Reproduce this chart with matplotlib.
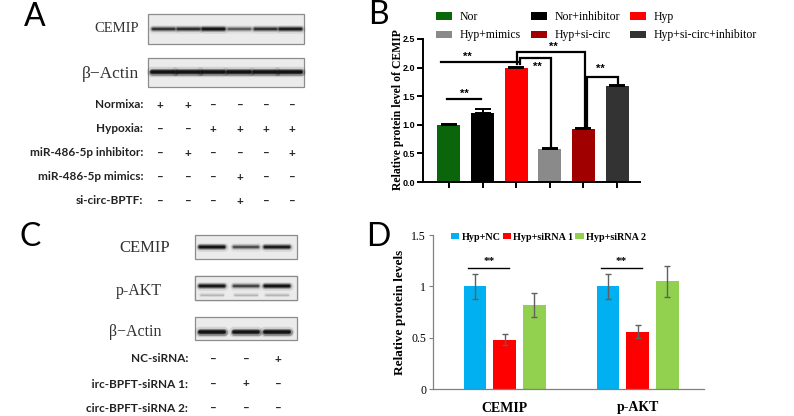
import numpy as np
import matplotlib.pyplot as plt
from matplotlib.patches import Rectangle

W, H = 794, 416

# ---- panel B data
b_groups = ['Nor', 'Nor+inhibitor', 'Hyp', 'Hyp+mimics', 'Hyp+si-circ', 'Hyp+si-circ+inhibitor']
b_values = [1.00, 1.21, 1.99, 0.58, 0.93, 1.67]
b_errors = [0.02, 0.06, 0.02, 0.02, 0.02, 0.02]
b_colors = ['#0b650b', '#000000', '#ff0000', '#8a8a8a', '#a00000', '#333333']
# (x left, x right, top, left foot, right foot, star x, star y)
b_sig = [
    (-0.05, 0.95, 1.45, 1.45, 1.45, 0.45, 1.54),
    (-0.24, 2.04, 2.10, 2.10, 2.10, 0.56, 2.19),
    (2.10, 3.02, 2.17, 2.06, 0.62, 2.63, 2.01),
    (2.02, 4.05, 2.28, 2.06, 0.95, 3.10, 2.36),
    (4.11, 5.03, 1.84, 0.95, 1.70, 4.50, 1.97),
]

# ---- panel D data
d_targets = ['CEMIP', 'p-AKT']
d_groups = ['Hyp+NC', 'Hyp+siRNA 1', 'Hyp+siRNA 2']
d_values = np.array([[1.00, 0.48, 0.82], [1.00, 0.56, 1.05]])
d_errors = np.array([[0.12, 0.055, 0.115], [0.12, 0.06, 0.15]])
d_colors = ['#00b0f0', '#ff0000', '#92d050']

# ---- panel A blot / table
a_cemip = [0.60, 0.65, 0.90, 0.40, 0.62, 0.80]
a_actin = [0.95, 0.95, 0.95, 0.95, 0.95, 0.95]
a_rows = ['Normixa:', 'Hypoxia:', 'miR-486-5p inhibitor:', 'miR-486-5p mimics:', 'si-circ-BPTF:']
a_signs = ['++----', '--++++', '-+---+', '---+--', '---+--']

# ---- panel C blot / table
c_cemip = [0.90, 0.45, 0.80]
c_pakt = [0.85, 0.50, 0.90]
c_actin = [0.95, 0.90, 0.95]
c_rows = ['NC-siRNA:', 'circ-BPFT-siRNA 1:', 'circ-BPFT-siRNA 2:']
c_signs = ['--+', '-+-', '---']

serif = 'Liberation Serif'
sans = 'Liberation Sans'
lab = 'Lato'

fig = plt.figure(figsize=(W / 100, H / 100), dpi=100)
ov = fig.add_axes([0, 0, 1, 1])
ov.set_xlim(0, W)
ov.set_ylim(H, 0)
ov.axis('off')


def px_axes(l, t, r, b):
    return fig.add_axes([l / W, 1 - b / H, (r - l) / W, (b - t) / H])


def blot(x0, x1, y0, y1, lanes, yb, strengths, bw, bh):
    ov.add_patch(Rectangle((x0, y0), x1 - x0, y1 - y0, facecolor='#ebebeb',
                           edgecolor='#8c8c8c', lw=0.9))
    for xc, s in zip(lanes, strengths):
        for f, a in [(1.9, 0.12), (1.3, 0.35), (0.8, 0.7), (0.45, 1.0)]:
            ov.plot([xc - bw / 2, xc + bw / 2], [yb, yb], color='#111111',
                    lw=bh * f * 0.72, alpha=a * s, solid_capstyle='round')


def sign_table(rows, signs, xr, ys, cols, fs):
    for r, sg, y in zip(rows, signs, ys):
        ov.text(xr, y, r, ha='right', va='center', fontsize=fs, family=lab,
                fontweight='bold', color='#222222')
        for c, x in zip(sg, cols):
            ov.text(x, y, '+' if c == '+' else '\u2013', ha='center', va='center',
                    fontsize=fs, family=lab, fontweight='bold', color='#222222')


# panel letters
for t, x, y in [('A', 35, 17), ('B', 378, 15), ('C', 30, 237), ('D', 378, 237)]:
    ov.text(x, y, t, ha='center', va='center', fontsize=23, family=lab)

# ---- panel A
lanesA = [163, 188, 213, 239, 265, 290]
blot(148, 304, 14, 44, lanesA, 28.5, a_cemip, 21, 4.5)
blot(148, 304, 58, 87, lanesA, 71.5, a_actin, 22, 5.5)
ov.text(139, 29, 'CEMIP', ha='right', va='center', fontsize=10.5, family=serif, color='#333333')
ov.text(139, 74, '\u03b2\u2212Actin', ha='right', va='center', fontsize=12.5, family=serif, color='#333333')
sign_table(a_rows, a_signs, 143, [105, 129, 153, 177, 201], [160, 188, 213, 240, 266, 292], 8.5)

# ---- panel C
lanesC = [212, 246, 277]
blot(195, 297, 235, 259, lanesC, 247, c_cemip, 24, 4.5)
blot(195, 297, 276, 300, lanesC, 286, c_pakt, 24, 4.5)
blot(195, 297, 276, 300, lanesC, 295, [0.12, 0.12, 0.12], 22, 3)
blot(195, 297, 317, 340, lanesC, 332, c_actin, 24, 5.5)
ov.text(170, 248, 'CEMIP', ha='right', va='center', fontsize=12, family=serif, color='#333333')
ov.text(162, 291, 'p-AKT', ha='right', va='center', fontsize=11.5, family=serif, color='#333333')
ov.text(162, 332, '\u03b2\u2212Actin', ha='right', va='center', fontsize=11.5, family=serif, color='#333333')
sign_table(c_rows, c_signs, 188, [359, 384, 408], [213, 246, 278], 8.5)
# the source image crops the first letter of the middle row
ov.add_patch(Rectangle((70, 376), 21, 16, facecolor='white', edgecolor='none', zorder=5))

# ---- panel B
axB = px_axes(423, 39, 640, 182)
xb = np.arange(len(b_values))
bars = axB.bar(xb, b_values, width=0.68, color=b_colors,
               yerr=[np.zeros(len(b_errors)), b_errors], capsize=6,
               error_kw=dict(ecolor='black', elinewidth=1.4, capthick=1.4))
axB.set_xlim(-0.77, 5.68)
axB.set_ylim(0, 2.5)
axB.set_yticks(np.arange(0, 2.51, 0.5))
axB.set_yticklabels([f'{v:.1f}' for v in np.arange(0, 2.51, 0.5)], family=sans,
                    fontweight='bold', fontsize=6.5)
axB.set_xticks(xb)
axB.set_xticklabels([])
axB.tick_params(width=1.4, length=4, pad=1.5)
for s in ['top', 'right']:
    axB.spines[s].set_visible(False)
for s in ['left', 'bottom']:
    axB.spines[s].set_linewidth(1.4)
for xl, xr, top, fl, fr, sx, sy in b_sig:
    axB.plot([xl, xl, xr, xr], [fl, top, top, fr], color='black', lw=1.6,
             solid_joinstyle='miter', clip_on=False)
    axB.text(sx, sy, '**', ha='center', va='center', fontsize=8, family=sans,
             fontweight='bold')
fig.text(398 / W, 1 - 110 / H, 'Relative protein level of CEMIP', rotation=90,
         ha='center', va='center', fontsize=8.5, family=serif, fontweight='bold')
order = [0, 3, 1, 4, 2, 5]
fig.legend([bars[i] for i in order], [b_groups[i] for i in order], ncol=3,
           loc='upper left', bbox_to_anchor=(436 / W, 1 - 11 / H), frameon=False,
           prop=dict(family=serif, size=8.5), handlelength=1.35, handleheight=0.6,
           handletextpad=0.65, columnspacing=0.85, labelspacing=0.55, borderpad=0,
           borderaxespad=0)

# ---- panel D
axD = px_axes(433, 235, 704, 389)
xd = np.arange(len(d_targets))
off = 0.224
dbars = []
for k in range(len(d_groups)):
    bb = axD.bar(xd + (k - 1) * off, d_values[:, k], width=0.17, color=d_colors[k],
                 yerr=d_errors[:, k], capsize=2.5,
                 error_kw=dict(ecolor='#606060', elinewidth=1, capthick=1))
    dbars.append(bb)
axD.set_xlim(-0.54, 1.5)
axD.set_ylim(0, 1.5)
axD.set_yticks([0, 0.5, 1, 1.5])
axD.set_yticklabels(['0', '0.5', '1', '1.5'], family=serif, fontsize=8.5)
axD.set_xticks(xd)
axD.set_xticklabels(d_targets, family=serif, fontweight='bold', fontsize=10)
axD.tick_params(axis='x', length=0, pad=9)
axD.tick_params(axis='y', length=3, width=0.8, color='#808080', pad=2)
for s in ['top', 'right']:
    axD.spines[s].set_visible(False)
for s in ['left', 'bottom']:
    axD.spines[s].set_color('#808080')
    axD.spines[s].set_linewidth(0.9)
for x in xd:
    axD.plot([x - 0.276, x + 0.03], [1.18, 1.18], color='black', lw=1)
    axD.text(x - 0.12, 1.24, '**', ha='center', va='center', fontsize=8,
             family=serif, fontweight='bold')
fig.text(400 / W, 1 - 312 / H, 'Relative protein levels', rotation=90,
         ha='center', va='center', fontsize=9.5, family=serif, fontweight='bold')
axD.legend([b[0] for b in dbars], d_groups, ncol=3, loc='center left',
           bbox_to_anchor=(451 / W, 1 - 237 / H), bbox_transform=fig.transFigure,
           frameon=False, prop=dict(family=serif, size=7.3, weight='bold'),
           handlelength=0.8, handleheight=0.6, handletextpad=0.25,
           columnspacing=0.2, borderpad=0, borderaxespad=0)

fig.savefig('out.png', dpi=100)
